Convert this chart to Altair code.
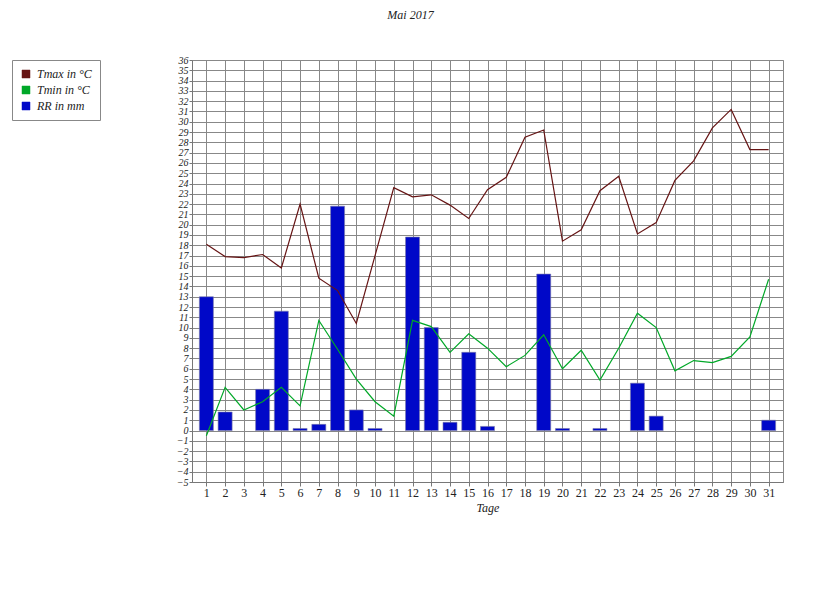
import altair as alt
import pandas as pd

days = list(range(1, 32))
tmax = [18.1, 16.9, 16.8, 17.1, 15.8, 22.0, 14.8, 13.6, 10.4, 17.0,
        23.6, 22.7, 22.9, 21.9, 20.6, 23.4, 24.6, 28.5, 29.2, 18.4,
        19.5, 23.3, 24.7, 19.1, 20.2, 24.3, 26.2, 29.4, 31.2, 27.3, 27.3]
tmin = [-0.5, 4.2, 2.0, 2.8, 4.2, 2.4, 10.7, 7.9, 5.0, 2.8,
        1.4, 10.7, 10.1, 7.6, 9.4, 8.0, 6.2, 7.3, 9.3, 6.0,
        7.8, 4.9, 8.0, 11.4, 10.0, 5.8, 6.8, 6.6, 7.2, 9.1, 14.7]
rr = [13.0, 1.8, 0, 4.0, 11.6, 0.2, 0.6, 21.8, 2.0, 0.2,
      0, 18.8, 10.0, 0.8, 7.6, 0.4, 0, 0, 15.2, 0.2,
      0, 0.2, 0, 4.6, 1.4, 0, 0, 0, 0, 0, 1.0]

series_names = ["Tmax in °C", "Tmin in °C", "RR in mm"]
series_colors = ["#661414", "#00a828", "#0008c8"]
y_ticks = list(range(-5, 37))

lines_df = pd.concat([
    pd.DataFrame({"day": days, "value": tmax, "series": series_names[0]}),
    pd.DataFrame({"day": days, "value": tmin, "series": series_names[1]}),
])
bars_df = pd.DataFrame({"day": days, "value": rr, "series": series_names[2]})
bars_df = bars_df[bars_df["value"] > 0]

FONT = "Liberation Serif"

x_enc = alt.X("day:Q",
              scale=alt.Scale(domain=[0.5, 31.5], nice=False, zero=False),
              axis=alt.Axis(values=days, title="Tage", grid=True,
                            labelFont=FONT, labelFontSize=12, labelColor="#222",
                            titleFont=FONT, titleFontStyle="italic", titleFontSize=12,
                            titleFontWeight="normal", titleColor="#222", titlePadding=4,
                            tickSize=4, tickColor="#777", domainColor="#777",
                            labelPadding=1, labelFlush=False))
y_enc = alt.Y("value:Q",
              scale=alt.Scale(domain=[-5, 36], nice=False, zero=False),
              axis=alt.Axis(values=y_ticks, title=None, grid=True,
                            labelFont=FONT, labelFontStyle="italic", labelFontSize=10,
                            labelColor="#222", tickSize=3, tickColor="#777",
                            domainColor="#777", labelPadding=1, labelFlush=False,
                            labelOverlap=False))
color_scale = alt.Scale(domain=series_names, range=series_colors)

bars = alt.Chart(bars_df).mark_bar(size=14, stroke="#7a7aa8", strokeWidth=0.6).encode(
    x=x_enc,
    y=y_enc,
    color=alt.Color("series:N", scale=color_scale,
                    legend=alt.Legend(title=None, orient="none", legendX=-180, legendY=0,
                                      symbolType="square", symbolSize=64,
                                      symbolStrokeColor="#333", symbolStrokeWidth=0.5,
                                      labelFont=FONT, labelFontStyle="italic",
                                      labelFontSize=12, labelColor="#222",
                                      labelOffset=5, rowPadding=4,
                                      padding=8, strokeColor="#888", fillColor="white")),
)

lines = alt.Chart(lines_df).mark_line(strokeWidth=1.2).encode(
    x=x_enc,
    y=y_enc,
    color=alt.Color("series:N", scale=color_scale, legend=None),
    detail="series:N",
)

chart = alt.layer(bars, lines).properties(
    width=591,
    height=422,
    autosize=alt.AutoSizeParams(type="none"),
    padding={"left": 184, "top": 52, "right": 29, "bottom": 60},
    title=alt.TitleParams("Mai 2017", font=FONT, fontStyle="italic", fontSize=12,
                          fontWeight="normal", color="#222", anchor="middle",
                          frame="group", dx=-77, offset=21, baseline="bottom"),
).configure_axis(
    gridColor="#888", gridWidth=1, gridOpacity=1
).configure_view(
    stroke="#888", strokeWidth=1
)

chart.save("out.html", embed_options={"renderer": "svg", "actions": False})
